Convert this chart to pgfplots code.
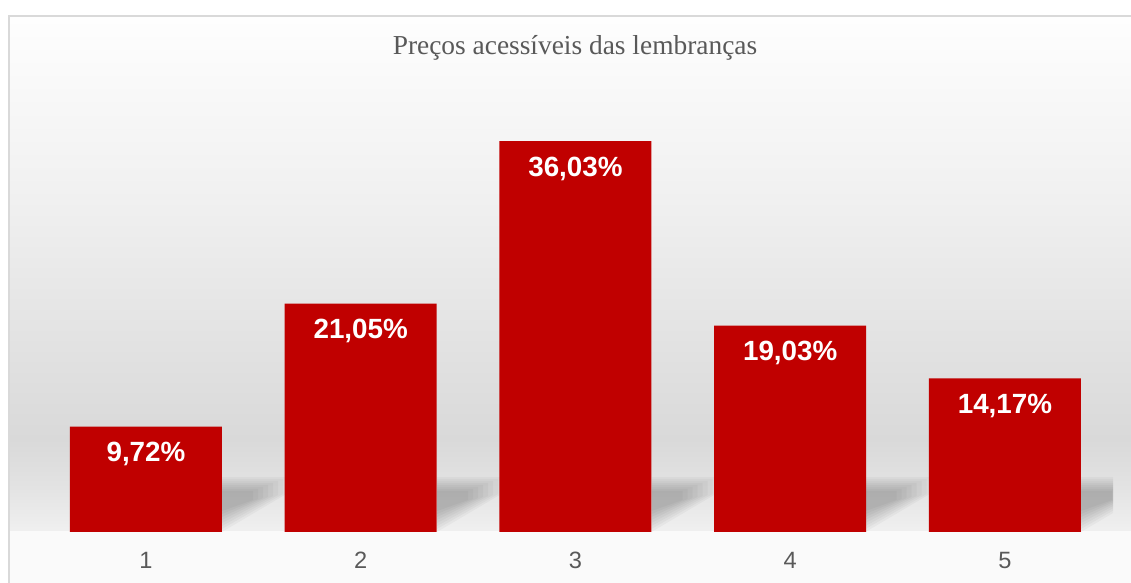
\documentclass[border=0pt]{standalone}
\usepackage{pgfplots}
\pgfplotsset{compat=1.18}
\usepackage{fontspec}
\setmainfont{Liberation Sans}
\newfontfamily\titlefont{Liberation Serif}
\definecolor{barred}{HTML}{C00000}
\definecolor{txtgray}{HTML}{595959}
\definecolor{framegray}{HTML}{D9D9D9}
\definecolor{wallA}{HTML}{FEFEFE}
\definecolor{wallB}{HTML}{F0F0F0}
\definecolor{wallC}{HTML}{D9D9D9}
\definecolor{wallD}{HTML}{E3E3E3}
\definecolor{floorB}{HTML}{F0F0F0}
\definecolor{belowgray}{HTML}{FAFAFA}

\begin{document}
\begin{tikzpicture}[x=0.5pt,y=0.5pt]
\useasboundingbox (0,0) rectangle (1131,583);
% background (units are pixels of the reference, y from the bottom)
\fill[top color=wallA, bottom color=wallB] (9,566) rectangle (1131,383);
\fill[top color=wallB, bottom color=wallC] (9,383.5) rectangle (1131,143);
\fill[top color=wallC, bottom color=wallD] (9,143.5) rectangle (1131,95);
\fill[top color=wallD, bottom color=floorB] (9,95.5) rectangle (1131,51);
\fill[belowgray] (9,51.5) rectangle (1131,0);
% soft floor shadows right of the bars, built from faint nested layers
\begin{scope}
\clip (9,51) rectangle (1113,120);
\foreach \xr in {222, 437, 651.5, 865.5, 1081}{
  \foreach \k in {0,...,7}{
    \fill[black, opacity=0.03]
      (\xr,51+3*\k) -- (\xr,106-2*\k) -- (\xr+66-5*\k,106-2*\k)
      -- (\xr+66-5*\k,90-\k) -- cycle;
  }
}
\end{scope}
\draw[framegray, line width=1pt] (8.5,-10) rectangle (1145,566.5);
\node[font=\titlefont\fontsize{13.7}{16}\selectfont, text=txtgray, anchor=base]
  at (575,528) {Preços acessíveis das lembranças};

\begin{axis}[
    at={(19.3pt,25.5pt)}, anchor=south west,
    scale only axis, width=536.875pt, height=217pt,
    xmin=0.5, xmax=5.5, ymin=0, ymax=40,
    ybar, bar width=76pt,
    axis line style={draw=none},
    major tick length=0pt,
    xtick={1,2,3,4,5}, ytick=\empty,
    /pgf/number format/assume math mode=true,
    xticklabel style={font=\fontsize{11.8}{14}\selectfont, text=txtgray, inner sep=0pt, yshift=-10pt},
    clip=false,
]
\addplot[fill=barred, draw=none,
    nodes near coords, point meta=explicit symbolic,
    every node near coord/.append style={font=\bfseries\fontsize{13.9}{16}\selectfont,
        text=white, anchor=center, yshift=-13.8pt}]
  coordinates {(1,9.72) [9,72\%] (2,21.05) [21,05\%] (3,36.03) [36,03\%]
               (4,19.03) [19,03\%] (5,14.17) [14,17\%]};
\end{axis}
\end{tikzpicture}
\end{document}
